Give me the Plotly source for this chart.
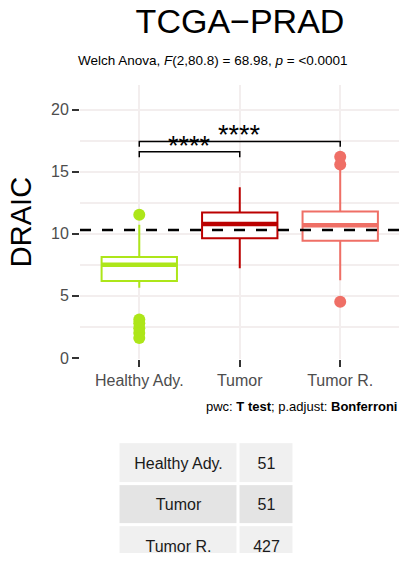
import plotly.graph_objects as go

# ---- data -------------------------------------------------------------
categories = ["Healthy Ady.", "Tumor", "Tumor R."]
box_colors = ["#ADE619", "#BB0000", "#EF6F66"]
q1 = [6.20, 9.65, 9.43]
median = [7.50, 10.78, 10.69]
q3 = [8.14, 11.72, 11.80]
lower_whisker = [5.66, 7.23, 6.26]
upper_whisker = [10.73, 13.74, 15.20]
outliers = [
    [11.54, 3.10, 2.80, 2.40, 2.00, 1.60],
    [],
    [16.20, 15.58, 4.53],
]
overall_mean = 10.30
sample_sizes = [51, 51, 427]

# pairwise comparisons: (group a, group b, bracket height, label)
comparisons = [
    (0, 1, 16.60, "****"),
    (0, 2, 17.44, "****"),
]

FONT = "Liberation Sans, Arial, sans-serif"
GRID = "#F3EEEE"
BOX_WIDTH = 0.75
TIP = 0.43
PAGE_H = 551  # vertical layout unit (px from the top)


def py(px):
    """Paper y fraction for a position given in px from the top."""
    return 1 - px / PAGE_H


fig = go.Figure()

for i, cat in enumerate(categories):
    fig.add_trace(go.Box(
        x=[i], q1=[q1[i]], median=[median[i]], q3=[q3[i]],
        lowerfence=[lower_whisker[i]], upperfence=[upper_whisker[i]],
        width=BOX_WIDTH, whiskerwidth=0, boxpoints=False,
        line=dict(color=box_colors[i], width=2), fillcolor="white",
        name=cat, showlegend=False, hoverinfo="skip",
    ))
    # thicker median bar, as in ggplot boxplots
    fig.add_trace(go.Scatter(
        x=[i - BOX_WIDTH / 2, i + BOX_WIDTH / 2], y=[median[i], median[i]],
        mode="lines", line=dict(color=box_colors[i], width=4.5),
        showlegend=False, hoverinfo="skip",
    ))
    if outliers[i]:
        fig.add_trace(go.Scatter(
            x=[i] * len(outliers[i]), y=outliers[i], mode="markers",
            marker=dict(color=box_colors[i], size=12),
            showlegend=False, hoverinfo="skip",
        ))

annotations = []
for a, b, h, label in comparisons:
    fig.add_trace(go.Scatter(
        x=[a, a, b, b], y=[h - TIP, h, h, h - TIP], mode="lines",
        line=dict(color="black", width=1.5),
        showlegend=False, hoverinfo="skip",
    ))
    annotations.append(dict(
        x=(a + b) / 2, y=h, xref="x", yref="y", text=label,
        showarrow=False, yanchor="bottom", yshift=-11,
        font=dict(family=FONT, size=27, color="black"),
    ))

# overall mean reference line
fig.add_shape(type="line", xref="x domain", yref="y", x0=0, x1=1,
              y0=overall_mean, y1=overall_mean, layer="above",
              line=dict(color="black", width=2.5, dash="11px,11px"))

# count table under the plot: one row per group, shaded rows alternate
n_rows = len(categories)
fig.add_trace(go.Heatmap(
    x=[0, 120, 176], y=list(range(n_rows + 1)),
    z=[[r % 2, r % 2] for r in range(n_rows)],
    text=[[cat, str(n)] for cat, n in zip(categories, sample_sizes)],
    texttemplate="%{text}",
    textfont=dict(family=FONT, size=16, color="#1A1A1A"),
    colorscale=[[0, "#F0F0F0"], [1, "#E4E4E4"]], zmin=0, zmax=1,
    showscale=False, xgap=3, ygap=3, hoverinfo="skip",
    xaxis="x2", yaxis="y2",
))

annotations += [
    dict(x=213 / 399, y=py(60), xref="paper", yref="paper",
         text="Welch Anova, <i>F</i>(2,80.8) = 68.98, <i>p</i> = &lt;0.0001",
         showarrow=False, xanchor="center", yanchor="middle",
         font=dict(family=FONT, size=13.5, color="black")),
    dict(x=1, y=py(405), xref="paper", yref="paper",
         text="pwc: <b>T test</b>; p.adjust: <b>Bonferroni</b>",
         showarrow=False, xanchor="right", yanchor="middle",
         font=dict(family=FONT, size=13, color="black")),
]

ROW_PX = 41.5
TABLE_TOP = 440.5

fig.update_layout(
    width=399, height=561,
    margin=dict(l=0, r=0, t=0, b=0),
    paper_bgcolor="white", plot_bgcolor="white",
    title=dict(text="TCGA\u2212PRAD", x=240 / 399, xanchor="center",
               y=py(21), yanchor="middle",
               font=dict(family=FONT, size=34, color="black")),
    annotations=annotations,
    xaxis=dict(
        domain=[80 / 399, 1], range=[-0.59, 2.585],
        tickvals=[0, 1, 2], ticktext=categories,
        showgrid=True, gridcolor=GRID, gridwidth=2,
        zeroline=False, showline=False,
        ticks="outside", ticklen=7, tickwidth=2, tickcolor="#333333",
        tickfont=dict(family=FONT, size=16, color="#4D4D4D"),
    ),
    yaxis=dict(
        domain=[py(357.5), py(85)],
        range=[-0.07, 21.96],
        tickvals=[0, 5, 10, 15, 20],
        showgrid=True, gridcolor=GRID, gridwidth=2,
        minor=dict(tickvals=[2.5, 7.5, 12.5, 17.5], showgrid=True,
                   gridcolor=GRID, gridwidth=2, ticks=""),
        zeroline=False, showline=False,
        ticks="outside", ticklen=7, tickwidth=2, tickcolor="#333333",
        tickfont=dict(family=FONT, size=16, color="#4D4D4D"),
        title=dict(text="DRAIC", standoff=10,
                   font=dict(family=FONT, size=29, color="black")),
    ),
    xaxis2=dict(domain=[118.5 / 399, 294.5 / 399], range=[0, 176],
                visible=False, fixedrange=True),
    yaxis2=dict(domain=[0, py(TABLE_TOP)],
                range=[(PAGE_H - TABLE_TOP) / ROW_PX, 0],
                visible=False, fixedrange=True),
)

fig.write_html("out.html")
